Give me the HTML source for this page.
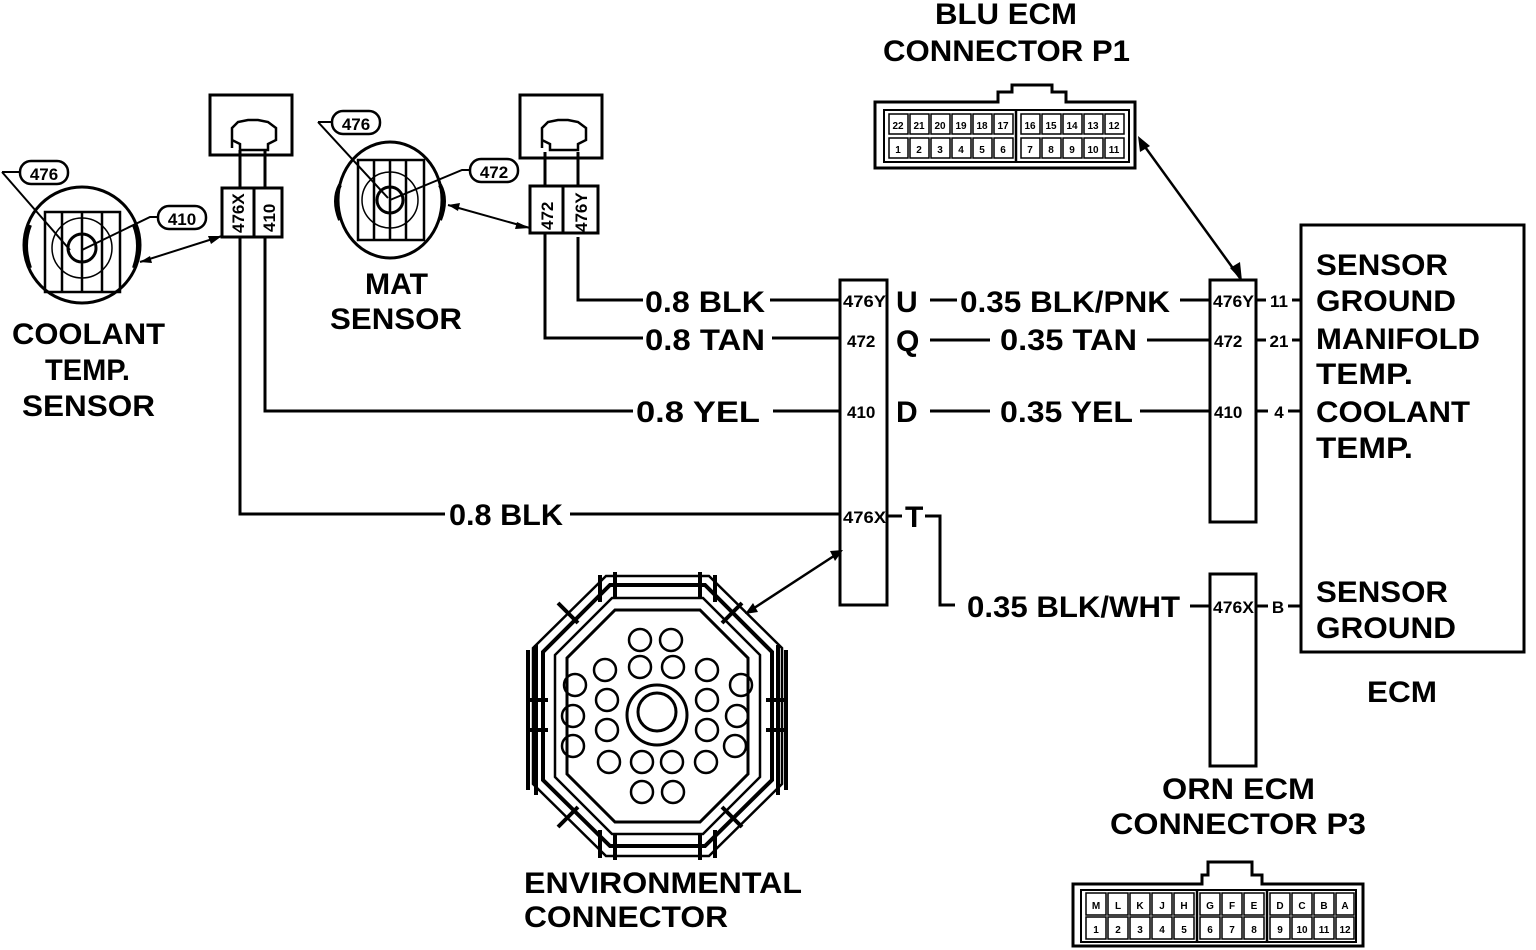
<!DOCTYPE html>
<html><head><meta charset="utf-8"><style>
html,body{margin:0;padding:0;background:#fff}
svg{display:block}
text{font-family:"Liberation Sans",sans-serif;font-weight:bold;fill:#000}
.b{font-size:30px}
.s{font-size:17px}
.c{font-size:10px}
</style></head><body>
<svg width="1536" height="950" viewBox="0 0 1536 950" xmlns="http://www.w3.org/2000/svg">
<g fill="none" stroke="#000" stroke-width="3">
<rect x="1301" y="225" width="223" height="427"/>
<rect x="1210" y="280" width="46" height="242"/>
<rect x="1210" y="574" width="46" height="192"/>
<rect x="840" y="280" width="47" height="325"/>
<path d="M1256 300H1266 M1292 300H1301 M1256 340H1266 M1292 340H1301 M1256 411H1268 M1288 411H1301 M1256 606H1268 M1288 606H1301"/>
<path d="M578 237V300H643 M770 300H840"/>
<path d="M545 233V338H643 M772 338H840"/>
<path d="M265 237V411H633 M773 411H840"/>
<path d="M240 237V514H445 M570 514H840"/>
<path d="M930 300H957 M1180 300H1210"/>
<path d="M930 340H990 M1147 340H1210"/>
<path d="M930 411H990 M1140 411H1210"/>
<path d="M887 516H902 M925 516H940V605H955 M1190 606H1210"/>
<rect x="210" y="95" width="82" height="60"/>
<rect x="222" y="188" width="60" height="49"/>
<path d="M254 188V237"/>
<path d="M240 188V150 M265 188V150"/>
<path d="M232 148V128L238 122L248 120L258 120L268 122L276 128V140L268 144V150H240V144L232 140Z" stroke-width="2.5"/>
<rect x="520" y="95" width="82" height="63"/>
<rect x="530" y="186" width="68" height="47"/>
<path d="M563 186V233"/>
<path d="M545 186V152 M578 186V152"/>
<path d="M542 148V128L548 122L558 120L568 120L578 122L586 128V140L578 144V150H550V144L542 140Z" stroke-width="2.5"/>
<ellipse cx="82" cy="245" rx="58" ry="58"/>
<path d="M30 225Q22 245 30 268 M134 225Q142 245 134 268" stroke-width="4"/>
<rect x="45" y="212" width="75" height="80" stroke-width="2.5"/>
<path d="M62 212V292 M82 212V292 M102 212V292" stroke-width="2.5"/>
<circle cx="82" cy="248" r="14"/>
<circle cx="82" cy="248" r="30" stroke-width="1.5"/>
<path d="M2 172H20 M2 172L70 250 M164 217H150 L82 250" stroke-width="2"/>
<path d="M140 262L222 236" stroke-width="2"/>
<ellipse cx="390" cy="200" rx="52" ry="58"/>
<path d="M340 185Q332 200 340 220 M440 185Q448 200 440 220" stroke-width="4"/>
<rect x="358" y="160" width="66" height="80" stroke-width="2.5"/>
<path d="M374 160V240 M390 160V240 M406 160V240" stroke-width="2.5"/>
<circle cx="390" cy="200" r="13"/>
<circle cx="390" cy="200" r="28" stroke-width="1.5"/>
<path d="M318 122H334 M318 122L388 198 M476 170H462L390 200" stroke-width="2"/>
<path d="M448 205L530 228" stroke-width="2"/>
<path d="M1140 140L1240 278" stroke-width="2.5"/>
<path d="M748 612L840 552" stroke-width="2.5"/>
<path d="M875 102H998V92H1012V85H1052V92H1066V102H1135V168H875Z" stroke-width="3"/>
<rect x="884" y="110" width="245" height="52" stroke-width="2"/>
<path d="M1073 884H1202V875H1208V862H1252V875H1262V884H1363V946H1073Z" stroke-width="3"/>
<rect x="1081" y="890" width="275" height="52" stroke-width="2"/>
<polygon points="610,585 705,585 772,652 772,780 705,846 610,846 543,780 543,652" stroke-width="4"/>
<polygon points="612,598 703,598 760,655 760,777 703,834 612,834 555,777 555,655" stroke-width="2.5"/>
<polygon points="615,610 700,610 748,658 748,774 700,822 615,822 567,774 567,658" stroke-width="3"/>
<polygon points="606,576 709,576 782,648 782,784 709,856 606,856 533,784 533,648" stroke-width="2.5"/>
<path d="M528 650V790 M536 645V795 M786 650V790 M778 645V795 M600 575V602 M615 572V598 M700 572V598 M715 575V602 M600 830V858 M615 834V860 M700 834V860 M715 830V858 M558 603L578 623 M742 603L722 623 M558 827L578 807 M742 827L722 807 M528 700H548 M528 730H548 M766 700H786 M766 730H786" stroke-width="4"/>
<circle cx="657" cy="715" r="30"/>
<circle cx="657" cy="712" r="19"/>
<g stroke-width="2.5">
<circle cx="640" cy="640" r="11"/><circle cx="671" cy="640" r="11"/>
<circle cx="605" cy="670" r="11"/><circle cx="640" cy="667" r="11"/><circle cx="673" cy="667" r="11"/><circle cx="707" cy="670" r="11"/>
<circle cx="575" cy="685" r="11"/><circle cx="741" cy="685" r="11"/>
<circle cx="607" cy="700" r="11"/><circle cx="707" cy="700" r="11"/>
<circle cx="573" cy="716" r="11"/><circle cx="737" cy="716" r="11"/>
<circle cx="607" cy="730" r="11"/><circle cx="707" cy="730" r="11"/>
<circle cx="573" cy="746" r="11"/><circle cx="735" cy="746" r="11"/>
<circle cx="609" cy="762" r="11"/><circle cx="642" cy="762" r="11"/><circle cx="672" cy="762" r="11"/><circle cx="706" cy="762" r="11"/>
<circle cx="642" cy="792" r="11"/><circle cx="673" cy="792" r="11"/>
</g>
</g>
<g fill="#000">
<polygon points="1138,136 1140,152 1150,146"/>
<polygon points="1242,281 1230,268 1240,262"/>
<polygon points="843,550 830,551 835,561"/>
<polygon points="745,614 758,612 753,603"/>
<polygon points="222,236 208,236 211,244"/>
<polygon points="140,262 150,256 152,263"/>
<polygon points="530,228 517,222 515,229"/>
<polygon points="448,205 460,203 458,211"/>
</g>
<g fill="#fff" stroke="#000" stroke-width="2.5">
<rect x="20" y="161" width="48" height="23" rx="11"/>
<rect x="158" y="206" width="48" height="23" rx="11"/>
<rect x="332" y="111" width="48" height="23" rx="11"/>
<rect x="470" y="159" width="48" height="23" rx="11"/>
</g>
<text x="44" y="180" class="s" text-anchor="middle">476</text>
<text x="182" y="225" class="s" text-anchor="middle">410</text>
<text x="356" y="130" class="s" text-anchor="middle">476</text>
<text x="494" y="178" class="s" text-anchor="middle">472</text>
<text transform="translate(244,233) rotate(-90)" class="s">476X</text>
<text transform="translate(275,232) rotate(-90)" class="s">410</text>
<text transform="translate(553,230) rotate(-90)" class="s">472</text>
<text transform="translate(587,232) rotate(-90)" class="s">476Y</text>
<g class="b" lengthAdjust="spacingAndGlyphs">
<text x="935" y="24" textLength="142" lengthAdjust="spacingAndGlyphs">BLU ECM</text>
<text x="883" y="61" textLength="247" lengthAdjust="spacingAndGlyphs">CONNECTOR P1</text>
<text x="12" y="344" textLength="153" lengthAdjust="spacingAndGlyphs">COOLANT</text>
<text x="45" y="380" textLength="85" lengthAdjust="spacingAndGlyphs">TEMP.</text>
<text x="22" y="416" textLength="133" lengthAdjust="spacingAndGlyphs">SENSOR</text>
<text x="365" y="294" textLength="63" lengthAdjust="spacingAndGlyphs">MAT</text>
<text x="330" y="329" textLength="132" lengthAdjust="spacingAndGlyphs">SENSOR</text>
<text x="645" y="312" textLength="120" lengthAdjust="spacingAndGlyphs">0.8 BLK</text>
<text x="645" y="350" textLength="120" lengthAdjust="spacingAndGlyphs">0.8 TAN</text>
<text x="636" y="422" textLength="124" lengthAdjust="spacingAndGlyphs">0.8 YEL</text>
<text x="449" y="525" textLength="114" lengthAdjust="spacingAndGlyphs">0.8 BLK</text>
<text x="896" y="312">U</text>
<text x="896" y="351">Q</text>
<text x="896" y="422">D</text>
<text x="905" y="527">T</text>
<text x="960" y="312" textLength="210" lengthAdjust="spacingAndGlyphs">0.35 BLK/PNK</text>
<text x="1000" y="350" textLength="137" lengthAdjust="spacingAndGlyphs">0.35 TAN</text>
<text x="1000" y="422" textLength="133" lengthAdjust="spacingAndGlyphs">0.35 YEL</text>
<text x="967" y="617" textLength="213" lengthAdjust="spacingAndGlyphs">0.35 BLK/WHT</text>
<text x="1316" y="275" textLength="132" lengthAdjust="spacingAndGlyphs">SENSOR</text>
<text x="1316" y="311" textLength="140" lengthAdjust="spacingAndGlyphs">GROUND</text>
<text x="1316" y="349" textLength="164" lengthAdjust="spacingAndGlyphs">MANIFOLD</text>
<text x="1316" y="384" textLength="97" lengthAdjust="spacingAndGlyphs">TEMP.</text>
<text x="1316" y="422" textLength="154" lengthAdjust="spacingAndGlyphs">COOLANT</text>
<text x="1316" y="458" textLength="97" lengthAdjust="spacingAndGlyphs">TEMP.</text>
<text x="1316" y="602" textLength="132" lengthAdjust="spacingAndGlyphs">SENSOR</text>
<text x="1316" y="638" textLength="140" lengthAdjust="spacingAndGlyphs">GROUND</text>
<text x="1367" y="702" textLength="70" lengthAdjust="spacingAndGlyphs">ECM</text>
<text x="1162" y="799" textLength="153" lengthAdjust="spacingAndGlyphs">ORN ECM</text>
<text x="1110" y="834" textLength="256" lengthAdjust="spacingAndGlyphs">CONNECTOR P3</text>
<text x="524" y="893" textLength="278" lengthAdjust="spacingAndGlyphs">ENVIRONMENTAL</text>
<text x="524" y="927" textLength="204" lengthAdjust="spacingAndGlyphs">CONNECTOR</text>
</g>
<g class="s">
<text x="843" y="307" textLength="43" lengthAdjust="spacingAndGlyphs">476Y</text>
<text x="847" y="347">472</text>
<text x="847" y="418">410</text>
<text x="843" y="523" textLength="43" lengthAdjust="spacingAndGlyphs">476X</text>
<text x="1213" y="307" textLength="41" lengthAdjust="spacingAndGlyphs">476Y</text>
<text x="1214" y="347">472</text>
<text x="1214" y="418">410</text>
<text x="1213" y="613" textLength="41" lengthAdjust="spacingAndGlyphs">476X</text>
<text x="1279" y="307" text-anchor="middle">11</text>
<text x="1279" y="347" text-anchor="middle">21</text>
<text x="1279" y="418" text-anchor="middle">4</text>
<text x="1278" y="613" text-anchor="middle">B</text>
</g>
<g fill="none" stroke="#000" stroke-width="1.5">
<rect x="889" y="114" width="19" height="20"/><rect x="910" y="114" width="19" height="20"/><rect x="931" y="114" width="19" height="20"/><rect x="952" y="114" width="19" height="20"/><rect x="973" y="114" width="19" height="20"/><rect x="994" y="114" width="19" height="20"/>
<rect x="1021" y="114" width="19" height="20"/><rect x="1042" y="114" width="19" height="20"/><rect x="1063" y="114" width="19" height="20"/><rect x="1084" y="114" width="19" height="20"/><rect x="1105" y="114" width="19" height="20"/>
<rect x="889" y="138" width="19" height="20"/><rect x="910" y="138" width="19" height="20"/><rect x="931" y="138" width="19" height="20"/><rect x="952" y="138" width="19" height="20"/><rect x="973" y="138" width="19" height="20"/><rect x="994" y="138" width="19" height="20"/>
<rect x="1021" y="138" width="19" height="20"/><rect x="1042" y="138" width="19" height="20"/><rect x="1063" y="138" width="19" height="20"/><rect x="1084" y="138" width="19" height="20"/><rect x="1105" y="138" width="19" height="20"/>
<path d="M1016 110V162" stroke-width="2.5"/>
</g>
<g class="c" text-anchor="middle">
<text x="898" y="129">22</text><text x="919" y="129">21</text><text x="940" y="129">20</text><text x="961" y="129">19</text><text x="982" y="129">18</text><text x="1003" y="129">17</text>
<text x="1030" y="129">16</text><text x="1051" y="129">15</text><text x="1072" y="129">14</text><text x="1093" y="129">13</text><text x="1114" y="129">12</text>
<text x="898" y="153">1</text><text x="919" y="153">2</text><text x="940" y="153">3</text><text x="961" y="153">4</text><text x="982" y="153">5</text><text x="1003" y="153">6</text>
<text x="1030" y="153">7</text><text x="1051" y="153">8</text><text x="1072" y="153">9</text><text x="1093" y="153">10</text><text x="1114" y="153">11</text>
</g>
<g fill="none" stroke="#000" stroke-width="1.5">
<rect x="1086" y="893" width="20" height="22"/><rect x="1108" y="893" width="20" height="22"/><rect x="1130" y="893" width="20" height="22"/><rect x="1152" y="893" width="20" height="22"/><rect x="1174" y="893" width="20" height="22"/>
<rect x="1200" y="893" width="20" height="22"/><rect x="1222" y="893" width="20" height="22"/><rect x="1244" y="893" width="20" height="22"/>
<rect x="1270" y="893" width="20" height="22"/><rect x="1292" y="893" width="20" height="22"/><rect x="1314" y="893" width="20" height="22"/><rect x="1336" y="893" width="18" height="22"/>
<rect x="1086" y="917" width="20" height="22"/><rect x="1108" y="917" width="20" height="22"/><rect x="1130" y="917" width="20" height="22"/><rect x="1152" y="917" width="20" height="22"/><rect x="1174" y="917" width="20" height="22"/>
<rect x="1200" y="917" width="20" height="22"/><rect x="1222" y="917" width="20" height="22"/><rect x="1244" y="917" width="20" height="22"/>
<rect x="1270" y="917" width="20" height="22"/><rect x="1292" y="917" width="20" height="22"/><rect x="1314" y="917" width="20" height="22"/><rect x="1336" y="917" width="18" height="22"/>
<path d="M1197 890V942 M1267 890V942" stroke-width="2.5"/>
</g>
<g class="c" text-anchor="middle">
<text x="1096" y="909">M</text><text x="1118" y="909">L</text><text x="1140" y="909">K</text><text x="1162" y="909">J</text><text x="1184" y="909">H</text>
<text x="1210" y="909">G</text><text x="1232" y="909">F</text><text x="1254" y="909">E</text>
<text x="1280" y="909">D</text><text x="1302" y="909">C</text><text x="1324" y="909">B</text><text x="1345" y="909">A</text>
<text x="1096" y="933">1</text><text x="1118" y="933">2</text><text x="1140" y="933">3</text><text x="1162" y="933">4</text><text x="1184" y="933">5</text>
<text x="1210" y="933">6</text><text x="1232" y="933">7</text><text x="1254" y="933">8</text>
<text x="1280" y="933">9</text><text x="1302" y="933">10</text><text x="1324" y="933">11</text><text x="1345" y="933">12</text>
</g>
</svg>
</body></html>
